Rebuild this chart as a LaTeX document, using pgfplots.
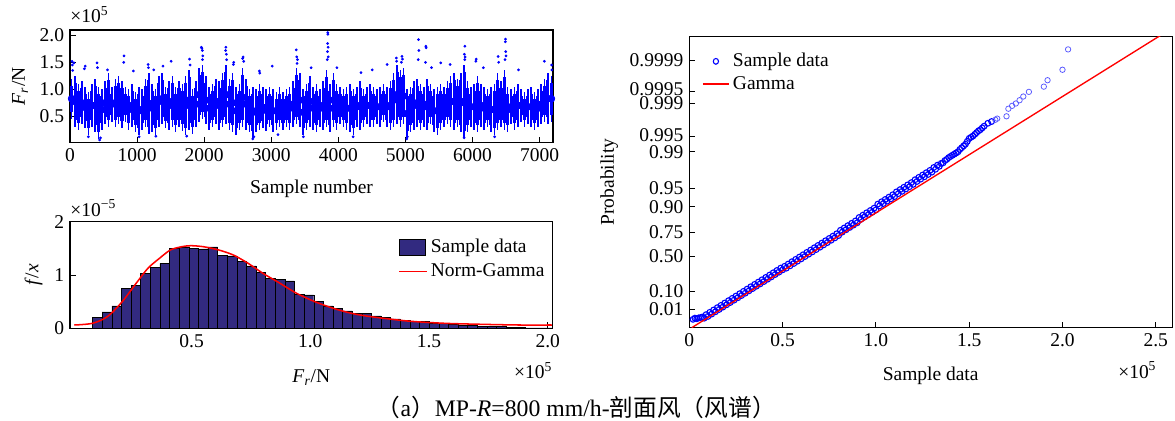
\documentclass[border=0pt]{standalone}
\usepackage{fontspec}
\setmainfont{Liberation Serif}
\newfontfamily\cjk{Noto Sans CJK SC}
\usepackage{pgfplots}
\pgfplotsset{compat=1.18}
\usepackage{pgfplotstable}
\definecolor{navy}{RGB}{50,42,128}

% per-bin band of the time series (bins of 50 samples): x, low, high (x 1e5 N)
\pgfplotstableread{
x lo hi
25 0.45 1.20
75 0.30 1.25
125 0.25 1.10
175 0.35 1.15
225 0.28 1.05
275 0.15 0.95
325 0.30 1.10
375 0.20 1.20
425 0.08 1.05
475 0.25 1.00
525 0.35 1.15
575 0.30 1.30
625 0.40 1.05
675 0.30 1.20
725 0.35 1.25
775 0.28 1.15
825 0.40 1.05
875 0.25 1.00
925 0.30 1.10
975 0.20 0.95
1025 0.15 1.05
1075 0.25 1.00
1125 0.30 1.20
1175 0.18 1.30
1225 0.20 1.10
1275 0.15 1.00
1325 0.30 1.25
1375 0.35 1.30
1425 0.28 1.05
1475 0.25 1.15
1525 0.30 1.25
1575 0.20 1.05
1625 0.30 1.15
1675 0.22 1.10
1725 0.15 1.25
1775 0.25 1.35
1825 0.18 1.00
1875 0.30 1.15
1925 0.40 1.40
1975 0.45 1.45
2025 0.35 1.25
2075 0.25 1.05
2125 0.30 1.10
2175 0.35 1.20
2225 0.25 1.15
2275 0.30 1.30
2325 0.35 1.45
2375 0.25 1.20
2425 0.20 1.30
2475 0.15 1.05
2525 0.25 1.10
2575 0.30 1.40
2625 0.25 1.20
2675 0.20 1.00
2725 0.10 1.05
2775 0.20 1.00
2825 0.25 1.10
2875 0.28 1.05
2925 0.22 1.00
2975 0.30 1.05
3025 0.20 1.00
3075 0.25 0.95
3125 0.30 1.05
3175 0.25 0.95
3225 0.30 1.00
3275 0.25 1.05
3325 0.30 1.15
3375 0.35 1.40
3425 0.30 1.30
3475 0.15 1.00
3525 0.25 1.10
3575 0.30 1.25
3625 0.25 1.05
3675 0.20 1.10
3725 0.30 1.00
3775 0.25 1.15
3825 0.30 1.35
3875 0.20 1.10
3925 0.30 1.30
3975 0.25 1.10
4025 0.35 1.05
4075 0.30 1.00
4125 0.25 1.05
4175 0.20 1.10
4225 0.15 1.00
4275 0.30 1.05
4325 0.25 1.15
4375 0.30 1.00
4425 0.35 1.05
4475 0.30 1.10
4525 0.30 1.05
4575 0.35 1.00
4625 0.30 1.05
4675 0.40 1.10
4725 0.30 1.05
4775 0.25 1.15
4825 0.30 1.30
4875 0.35 1.45
4925 0.30 1.35
4975 0.35 1.40
5025 0.10 1.00
5075 0.20 1.05
5125 0.25 1.15
5175 0.30 1.20
5225 0.25 1.10
5275 0.30 1.05
5325 0.25 1.20
5375 0.35 1.10
5425 0.20 1.00
5475 0.15 1.05
5525 0.25 1.10
5575 0.30 1.05
5625 0.35 1.15
5675 0.30 1.25
5725 0.25 1.30
5775 0.30 1.20
5825 0.20 1.30
5875 0.10 1.45
5925 0.20 1.15
5975 0.30 1.05
6025 0.25 1.10
6075 0.20 1.25
6125 0.30 1.10
6175 0.25 1.05
6225 0.30 1.00
6275 0.20 1.05
6325 0.15 1.10
6375 0.25 1.30
6425 0.30 1.15
6475 0.25 1.35
6525 0.20 1.05
6575 0.35 1.00
6625 0.25 1.05
6675 0.30 1.10
6725 0.40 1.00
6775 0.30 0.95
6825 0.35 1.00
6875 0.30 1.05
6925 0.25 0.95
6975 0.30 1.00
7025 0.35 1.10
7075 0.40 1.20
7125 0.35 1.30
7175 0.40 1.25
}\bandtable

% histogram: bin centre, density (x 1e-5); bin width 0.0405
\pgfplotstableread{
x y
0.10325 0.20
0.14375 0.31
0.18425 0.42
0.22475 0.75
0.26525 0.80
0.30575 1.03
0.34625 1.14
0.38675 1.22
0.42725 1.50
0.46775 1.53
0.50825 1.50
0.54875 1.49
0.58925 1.53
0.62975 1.375
0.67025 1.36
0.71075 1.25
0.75125 1.17
0.79175 1.05
0.83225 0.94
0.87275 0.925
0.91325 0.89
0.95375 0.64
0.99425 0.625
1.03475 0.50
1.07525 0.42
1.11575 0.375
1.15625 0.325
1.19675 0.28
1.23725 0.28
1.27775 0.235
1.31825 0.20
1.35875 0.175
1.39925 0.155
1.43975 0.135
1.48025 0.125
1.52075 0.10
1.56125 0.09
1.60175 0.08
1.64225 0.06
1.68275 0.05
1.72325 0.04
1.76375 0.03
1.80425 0.03
1.84475 0.02
1.88525 0.02
1.92575 0.01
1.96625 0.01
2.00675 0.01
}\histtable

\newcommand{\fs}{\fontsize{11.5}{13}\selectfont}
\pgfplotsset{
  mystyle/.style={
    scale only axis,
    clip mode=individual,
    axis line style={line width=0.6pt},
    tick align=inside,
    xtick pos=bottom, ytick pos=left,
    major tick length=3.5pt,
    tick style={line width=0.5pt, black},
    /pgf/number format/assume math mode=true,
    ticklabel style={font=\fs},
    label style={font=\fs},
    legend style={font=\fs},
    scaled ticks=false,
  }
}

\begin{document}
\begin{tikzpicture}
\path[use as bounding box] (0,0) rectangle (693.25pt,248.39pt);

% ---------------- top-left: time series ----------------
\begin{axis}[mystyle,
  at={(41.3pt,164.2pt)}, anchor=south west,
  width=284.97pt, height=66.49pt,
  xmin=0, xmax=7200, ymin=0.01, ymax=2.1,
  xtick={0,1000,2000,3000,4000,5000,6000,7000},
  xticklabels={0,1000,2000,3000,4000,5000,6000,7000},
  ytick={0.5,1,1.5,2}, yticklabels={0.5,1.0,1.5,2.0},
  xlabel={Sample number},
  xlabel style={yshift=-4pt},
  ylabel={\textit{F}\textsubscript{\textit{r}}/N},
]
\addplot[blue, only marks, mark=none,
  error bars/.cd, y dir=both, y explicit, error mark=none,
  error bar style={line width=0.9pt, blue}]
  table[x=x, y expr=(\thisrow{lo}+\thisrow{hi})/2,
        y error expr=(\thisrow{hi}-\thisrow{lo})/2] {\bandtable};
\addplot[blue, only marks, mark=none,
  error bars/.cd, y dir=both, y explicit, error mark=none,
  error bar style={line width=1.8pt, blue}]
  table[x=x, y expr=(\thisrow{lo}+\thisrow{hi})/2,
        y error expr=(\thisrow{hi}-\thisrow{lo})/2-0.13] {\bandtable};
\addplot[only marks, mark=*, mark size=0.6pt, blue] coordinates {
(30,1.52) (35,1.45) (59,1.49) (40,1.35) (226,1.43) (215,1.38) (403,1.49) (410,1.40)
(558,1.36) (806,1.62) (800,1.50) (944,1.34) (1164,1.46) (1170,1.40) (1248,1.36)
(1385,1.43) (1507,1.52) (1783,1.56) (1790,1.45) (1960,1.78) (1966,1.76) (1972,1.72)
(1980,1.62) (1975,1.55) (2324,1.78) (2320,1.72) (2330,1.65) (2335,1.55) (2435,1.46)
(2440,1.50) (2573,1.57) (2580,1.60) (2590,1.52) (2822,1.34) (2830,1.30) (3014,1.43)
(3373,1.73) (3380,1.60) (3390,1.55) (3385,1.48) (3594,1.40) (3843,2.05) (3845,2.02)
(3840,1.85) (3848,1.78) (3838,1.70) (3850,1.60) (3835,1.55) (3980,1.40) (4338,1.31)
(4505,1.36) (4726,1.46) (4864,1.58) (4870,1.52) (4948,1.61) (4955,1.56) (4940,1.50)
(5195,1.92) (5200,1.72) (5190,1.55) (5305,1.80) (5310,1.77) (5300,1.50) (5389,1.40)
(5526,1.49) (5665,1.46) (5886,1.80) (5880,1.65) (5890,1.60) (5885,1.55) (6051,1.52)
(6055,1.56) (6161,1.40) (6382,1.61) (6390,1.50) (6493,1.93) (6490,1.88) (6495,1.70)
(6500,1.62) (6485,1.55) (6686,1.36) (7072,1.52) (7183,1.36) (7180,1.45)
(440,0.06) (455,0.10) (1030,0.12) (1280,0.13) (2725,0.08) (2740,0.12) (3480,0.12)
(5020,0.08) (5030,0.12) (5875,0.10) (6330,0.12) (275,0.12) (1740,0.13) (3100,0.16)
(4220,0.12)
};
\node[anchor=south west, inner sep=0pt, font=\fs]
  at (rel axis cs:0,1) [yshift=4pt] {×10\textsuperscript{5}};
\end{axis}

% ---------------- bottom-left: histogram ----------------
\begin{axis}[mystyle,
  at={(41.3pt,54.69pt)}, anchor=south west,
  width=284.79pt, height=62.89pt,
  xmin=-0.012, xmax=2.021, ymin=0, ymax=2,
  xtick={0.5,1,1.5,2}, xticklabels={0.5,1.0,1.5,2.0},
  ytick={0,1,2}, yticklabels={0,1,2},
  xlabel={\textit{F}\textsubscript{\textit{r}}/N},
  xlabel style={yshift=-6pt},
  ylabel={\textit{f}/\textit{x}},
  legend style={at={(rel axis cs:0.68,0.87)}, anchor=north west,
    draw=none, fill=none, inner sep=0pt, row sep=1pt},
  legend cell align=left,
]
\addplot[ybar, bar width=0.0405, bar shift=0pt, fill=navy, draw=black,
  line width=0.25pt, forget plot]
  table[x=x, y=y] {\histtable};
\addplot[color=red, line width=0.9pt, smooth, mark=none, forget plot]
  coordinates {
(0.006,0.062) (0.083,0.094) (0.146,0.22) (0.208,0.50) (0.271,0.87) (0.317,1.13)
(0.364,1.31) (0.411,1.47) (0.458,1.53) (0.497,1.55) (0.551,1.53) (0.614,1.47)
(0.676,1.375) (0.738,1.22) (0.801,1.03) (0.863,0.87) (0.941,0.66) (1.019,0.50)
(1.097,0.375) (1.175,0.28) (1.253,0.22) (1.409,0.137) (1.565,0.094) (1.721,0.075)
(1.877,0.062) (2.017,0.062)
};
\addlegendimage{legend image code/.code={%
  \fill[navy] (0pt,-5pt) rectangle (15pt,5pt);
  \draw[black, line width=0.4pt] (0pt,-5pt) rectangle (15pt,5pt);}}
\addlegendentry{Sample data}
\addlegendimage{legend image code/.code={%
  \draw[red, line width=1pt] (0pt,0pt) -- (16pt,0pt);}}
\addlegendentry{Norm-Gamma}
\node[anchor=south west, inner sep=0pt, font=\fs]
  at (rel axis cs:0,1) [yshift=3pt] {×10\textsuperscript{−5}};
\node[anchor=north east, inner sep=0pt, font=\fs]
  at (rel axis cs:1,0) [yshift=-20pt] {×10\textsuperscript{5}};
\end{axis}

% ---------------- right: probability plot ----------------
\begin{axis}[mystyle,
  at={(406.69pt,55.05pt)}, anchor=south west,
  width=284.79pt, height=171.81pt,
  xmin=0, xmax=2.587, ymin=0.013, ymax=2.516,
  xtick={0,0.5,1,1.5,2,2.5}, xticklabels={0,0.5,1.0,1.5,2.0,2.5},
  ytick={0.171,0.328,0.629,0.833,1.053,1.213,1.525,1.654,1.941,2.047,2.313},
  yticklabels={0.01,0.10,0.50,0.75,0.90,0.95,\raisebox{-1.5pt}{0.99},\raisebox{1.5pt}{0.995},\raisebox{-2.2pt}{0.999},\raisebox{2.2pt}{0.9995},0.9999},
  xlabel={Sample data}, xlabel style={yshift=-5pt},
  ylabel={Probability},
  legend style={at={(rel axis cs:0.026,0.955)}, anchor=north west,
    draw=none, fill=none, inner sep=0pt, row sep=0pt},
  legend cell align=left,
  legend image post style={xscale=0.9},
]
\addplot[only marks, mark=o, mark size=1.7pt, blue, mark options={line width=0.65pt}]
  coordinates {
(0.02,0.085) (0.03,0.095) (0.04,0.090) (0.05,0.097) (0.06,0.100) (0.07,0.105)
(0.08,0.095) (0.09,0.125) (0.10,0.110) (0.11,0.145) (0.12,0.130) (0.13,0.165)
(0.14,0.150) (0.15,0.185) (0.16,0.170) (0.17,0.205) (0.18,0.190) (0.19,0.225)
(0.20,0.210) (0.21,0.245) (0.22,0.230) (0.23,0.265) (0.24,0.250) (0.25,0.285)
(0.26,0.270) (0.27,0.305) (0.28,0.290) (0.29,0.325) (0.30,0.310) (0.31,0.345)
(0.32,0.330) (0.33,0.365) (0.34,0.350) (0.35,0.385) (0.36,0.370) (0.37,0.405)
(0.38,0.390) (0.39,0.425) (0.40,0.410) (0.41,0.445) (0.42,0.430) (0.43,0.465)
(0.44,0.450) (0.45,0.485) (0.46,0.470) (0.47,0.505) (0.48,0.490) (0.49,0.525)
(0.50,0.510) (0.51,0.540) (0.52,0.525) (0.53,0.560) (0.54,0.545) (0.55,0.580)
(0.56,0.565) (0.57,0.600) (0.58,0.585) (0.59,0.620) (0.60,0.605) (0.61,0.640)
(0.62,0.625) (0.63,0.660) (0.64,0.645) (0.65,0.680) (0.66,0.665) (0.67,0.700)
(0.68,0.685) (0.69,0.720) (0.70,0.705) (0.71,0.740) (0.72,0.725) (0.73,0.760)
(0.74,0.745) (0.75,0.780) (0.76,0.765) (0.77,0.800) (0.78,0.785) (0.79,0.820)
(0.80,0.805) (0.81,0.850) (0.82,0.835) (0.83,0.870) (0.84,0.855) (0.85,0.890)
(0.86,0.875) (0.87,0.910) (0.88,0.895) (0.89,0.930) (0.90,0.915) (0.91,0.960)
(0.92,0.945) (0.93,0.980) (0.94,0.965) (0.95,1.000) (0.96,0.985) (0.97,1.020)
(0.98,1.005) (0.99,1.040) (1.00,1.025) (1.01,1.075) (1.02,1.060) (1.03,1.095)
(1.04,1.080) (1.05,1.115) (1.06,1.100) (1.07,1.135) (1.08,1.120) (1.09,1.155)
(1.10,1.140) (1.11,1.180) (1.12,1.165) (1.13,1.200) (1.14,1.185) (1.15,1.220)
(1.16,1.205) (1.17,1.240) (1.18,1.225) (1.19,1.260) (1.20,1.245) (1.21,1.285)
(1.22,1.270) (1.23,1.305) (1.24,1.290) (1.25,1.325) (1.26,1.310) (1.27,1.345)
(1.28,1.330) (1.29,1.365) (1.30,1.350) (1.31,1.390) (1.32,1.375) (1.33,1.410)
(1.34,1.400) (1.35,1.425) (1.36,1.430) (1.37,1.450) (1.38,1.460) (1.39,1.475)
(1.40,1.485) (1.41,1.495) (1.42,1.505) (1.43,1.515) (1.44,1.525) (1.45,1.545)
(1.46,1.560) (1.47,1.575) (1.48,1.590) (1.49,1.615) (1.50,1.640) (1.51,1.650)
(1.52,1.660) (1.53,1.675) (1.54,1.690) (1.55,1.705) (1.56,1.715) (1.57,1.730)
(1.58,1.745) (1.60,1.770) (1.62,1.785)
};
\addlegendentry{Sample data}
\addplot[red, line width=0.8pt, mark=none] coordinates {(0.013,0.013) (2.6,2.6)};
\addlegendentry{Gamma}
\addplot[only marks, mark=o, mark size=1.6pt, blue!65, mark options={line width=0.45pt}, forget plot]
  coordinates {
(1.64,1.800) (1.65,1.810) (1.70,1.830) (1.71,1.895) (1.73,1.920) (1.75,1.940)
(1.77,1.968) (1.79,2.000) (1.82,2.040) (1.90,2.085) (1.92,2.140) (2.00,2.230)
(2.03,2.405)
};
\node[anchor=north east, inner sep=0pt, font=\fs]
  at (rel axis cs:1,0) [yshift=-20pt, xshift=-9pt] {×10\textsuperscript{5}};
\end{axis}

\node[font=\fontsize{14}{16}\selectfont] at (340pt,7.7pt)
  {{\cjk （}a{\cjk ）}MP-\textit{R}=800 mm/h-{\cjk 剖面风（风谱）}};
\end{tikzpicture}
\end{document}
